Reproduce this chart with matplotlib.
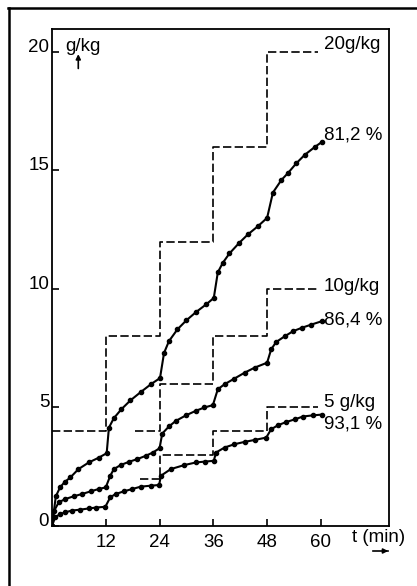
import matplotlib
matplotlib.use("Agg")
import matplotlib.pyplot as plt
from matplotlib.lines import Line2D

plt.rcParams["font.family"] = ["Liberation Sans", "DejaVu Sans"]

# dosing steps (dashed staircases), t in min, g/kg
step20_t = [0, 12, 24, 36, 48, 59.3]
step20_y = [4, 8, 12, 16, 20, 20]
step10_t = [18.5, 24, 36, 48, 59.3]
step10_y = [4, 6, 8, 10, 10]
step5_t = [19.6, 24, 36, 48, 59.3]
step5_y = [2, 3, 4, 5, 5]

# measured curves
c812_t = [0, 0.85, 1.8, 2.8, 4.1, 5.9, 8.2, 10.4, 12.2, 12.7, 13.8, 15.5, 17.5,
          19.8, 22.2, 24.1, 25.0, 26.1, 28.0, 30.0, 32.1, 34.4, 36.1, 37.0, 38.1,
          39.6, 41.8, 43.7, 45.9, 48.0, 49.3, 51.2, 52.7, 54.5, 56.4, 58.7, 60.2]
c812_y = [0, 1.25, 1.63, 1.85, 2.05, 2.4, 2.68, 2.88, 3.07, 4.15, 4.55, 4.93, 5.3,
          5.65, 6.0, 6.24, 7.3, 7.8, 8.3, 8.68, 9.02, 9.35, 9.62, 10.7, 11.1,
          11.5, 11.95, 12.3, 12.64, 13.0, 14.07, 14.6, 14.9, 15.3, 15.66, 16.0, 16.2]

c864_t = [0, 0.5, 1.5, 3.0, 4.8, 6.7, 8.6, 10.4, 12.0, 13.0, 13.8, 15.3, 17.2,
          19.0, 20.9, 22.5, 24.0, 24.6, 26.1, 27.6, 29.9, 32.1, 34.0, 35.9, 37.0,
          38.5, 40.7, 43.0, 45.2, 48.0, 48.9, 50.0, 51.9, 53.8, 55.7, 57.9, 60.2]
c864_y = [0, 0.65, 1.0, 1.14, 1.25, 1.35, 1.46, 1.56, 1.63, 2.12, 2.4, 2.57, 2.71,
          2.82, 2.96, 3.1, 3.28, 3.9, 4.2, 4.43, 4.67, 4.86, 5.0, 5.1, 5.77,
          5.98, 6.22, 6.47, 6.68, 6.89, 7.45, 7.76, 8.0, 8.22, 8.36, 8.5, 8.64]

c931_t = [0, 0.7, 1.8, 3.0, 4.4, 6.3, 8.2, 9.9, 11.9, 13.0, 14.2, 16.0, 17.9,
          19.8, 22.0, 23.9, 24.3, 26.5, 29.5, 32.1, 34.2, 36.1, 36.6, 38.5, 40.7,
          43.0, 45.2, 47.8, 48.9, 50.4, 52.3, 54.2, 56.0, 58.3, 60.2]
c931_y = [0, 0.37, 0.5, 0.58, 0.65, 0.69, 0.74, 0.78, 0.81, 1.21, 1.35, 1.46, 1.56,
          1.66, 1.7, 1.73, 2.12, 2.4, 2.57, 2.68, 2.72, 2.75, 3.1, 3.31, 3.45,
          3.55, 3.63, 3.73, 4.08, 4.25, 4.39, 4.5, 4.62, 4.67, 4.7]

x_ticks = [12, 24, 36, 48, 60]
y_ticks = [0, 5, 10, 15, 20]

fig = plt.figure(figsize=(4.17, 5.86), dpi=100)
ax = fig.add_axes([52 / 417, 1 - 526 / 586, 337 / 417, 497 / 586])

dash = (0, (5, 2))
for t, y in [(step20_t, step20_y), (step10_t, step10_y), (step5_t, step5_y)]:
    ax.plot(t, y, color="black", lw=1.2, ls=dash, drawstyle="steps-post")

for t, y in [(c812_t, c812_y), (c864_t, c864_y), (c931_t, c931_y)]:
    ax.plot(t, y, color="black", lw=1.5, marker="o", ms=3, mfc="black", mec="black")

fs = 13.5
ax.text(60.6, 20.3, "20g/kg", fontsize=fs, va="center", ha="left")
ax.text(60.6, 16.5, "81,2 %", fontsize=fs, va="center", ha="left")
ax.text(60.6, 10.1, "10g/kg", fontsize=fs, va="center", ha="left")
ax.text(60.6, 8.7, "86,4 %", fontsize=fs, va="center", ha="left")
ax.text(60.8, 5.2, "5 g/kg", fontsize=fs, va="center", ha="left")
ax.text(60.8, 4.3, "93,1 %", fontsize=fs, va="center", ha="left")

ax.set_xlim(0, 75.2)
ax.set_ylim(0, 20.97)
ax.set_xticks(x_ticks)
ax.set_yticks(y_ticks)
ax.tick_params(direction="in", length=5, width=1.2, labelsize=fs)
ax.tick_params(axis="y", pad=2)
ax.tick_params(axis="x", pad=6)
for lbl in ax.get_yticklabels():
    lbl.set_verticalalignment("baseline")
for s in ax.spines.values():
    s.set_linewidth(1.3)

# axis captions
ax.text(0.038, 0.965, "g/kg", transform=ax.transAxes, fontsize=fs, va="center", ha="left")
ax.annotate("", xy=(0.078, 0.955), xytext=(0.078, 0.915), xycoords="axes fraction",
            arrowprops=dict(arrowstyle="-|>", color="black", lw=1.2, mutation_scale=7))
fig.text(352 / 417, 1 - 538 / 586, "t (min)", fontsize=fs, va="center", ha="left")
fig.add_artist(Line2D([373 / 417, 388 / 417], [1 - 551 / 586, 1 - 551 / 586],
                      color="black", lw=1.2))
ax.annotate("", xy=(391 / 417, 1 - 551 / 586), xytext=(380 / 417, 1 - 551 / 586),
            xycoords="figure fraction",
            arrowprops=dict(arrowstyle="-|>", color="black", lw=1.2, mutation_scale=7))

# outer frame (top and left edges)
fig.add_artist(Line2D([8.5 / 417, 8.5 / 417], [0, 1 - 8 / 586], color="black", lw=1.8))
fig.add_artist(Line2D([8 / 417, 1], [1 - 8 / 586, 1 - 8 / 586], color="black", lw=1.8))

fig.savefig("out.png", dpi=100)
